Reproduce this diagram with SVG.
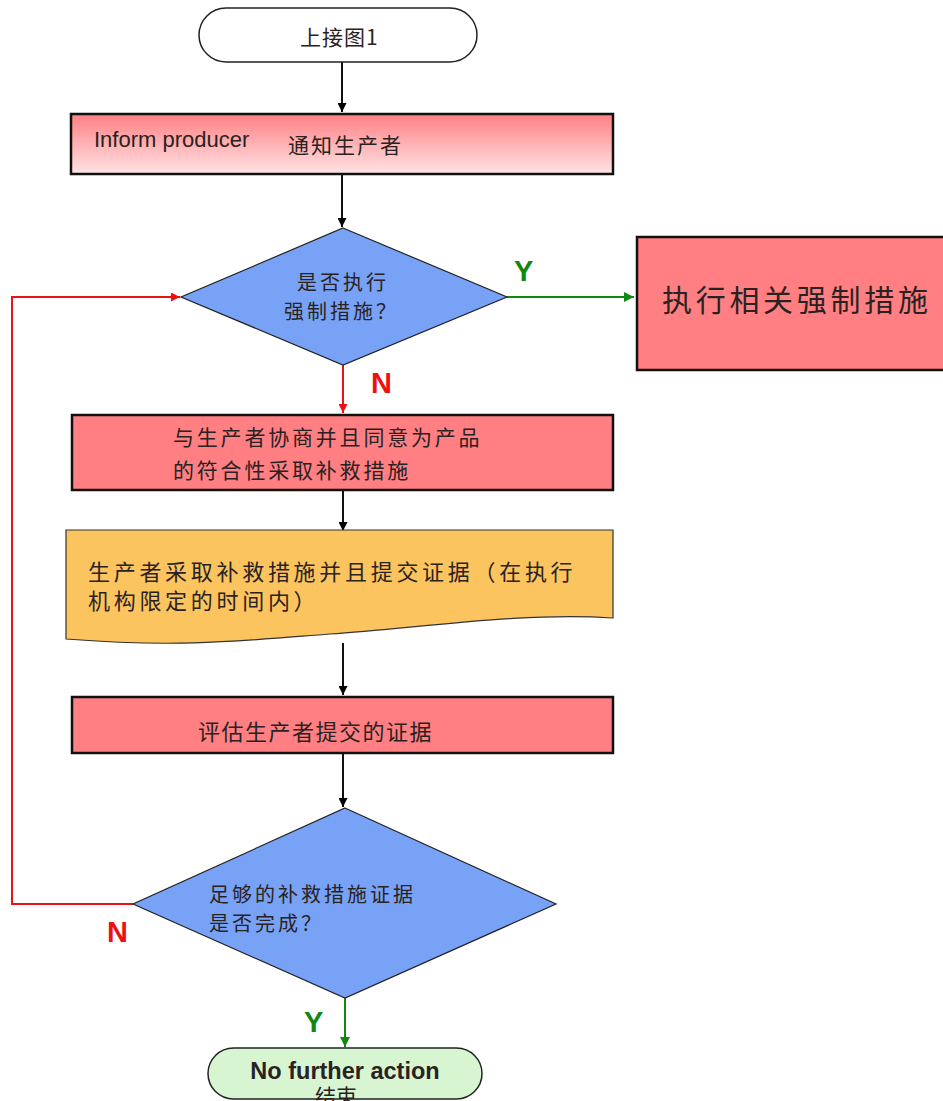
<svg xmlns="http://www.w3.org/2000/svg" width="943" height="1101" viewBox="0 0 943 1101">
<defs>
<linearGradient id="pinkGrad" x1="0" y1="0" x2="0" y2="1">
<stop offset="0" stop-color="#ff7f82"/>
<stop offset="1" stop-color="#ffe4e6"/>
</linearGradient>
<marker id="ahBlack" viewBox="0 0 10 10" refX="10" refY="5" markerWidth="9" markerHeight="9" markerUnits="userSpaceOnUse" orient="auto"><path d="M0,0 L10,5 L0,10 z" fill="#000"/></marker>
<marker id="ahRed" viewBox="0 0 10 10" refX="10" refY="5" markerWidth="9" markerHeight="9" markerUnits="userSpaceOnUse" orient="auto"><path d="M0,0 L10,5 L0,10 z" fill="#ee1111"/></marker>
<marker id="ahGreen" viewBox="0 0 10 10" refX="10" refY="5" markerWidth="10" markerHeight="10" markerUnits="userSpaceOnUse" orient="auto"><path d="M0,0 L10,5 L0,10 z" fill="#118811"/></marker>
</defs>
<style>
.box{stroke:#111;stroke-width:2.5}
.red{fill:#ff7f82}
.blue{fill:#78a2f5;stroke:#222;stroke-width:1.2}
.cjk{font-family:"Noto Sans CJK SC","Liberation Sans",sans-serif;fill:#2a2222}
.lat{font-family:"Liberation Sans",Arial,sans-serif;fill:#2a2222}
.blk{stroke:#111;stroke-width:2;fill:none;marker-end:url(#ahBlack)}
.rd{stroke:#ee1111;stroke-width:2;fill:none;marker-end:url(#ahRed)}
.gr{stroke:#118811;stroke-width:2;fill:none;marker-end:url(#ahGreen)}
.lblR{font-family:"Liberation Sans",Arial,sans-serif;font-weight:bold;font-size:29px;fill:#ee1111}
.lblG{font-family:"Liberation Sans",Arial,sans-serif;font-weight:bold;font-size:29px;fill:#118811}
</style>
<rect width="943" height="1101" fill="#fff"/>

<g id="connectors">
<path class="blk" d="M342,62 V112"/>
<path class="blk" d="M342,174 V227"/>
<path class="gr" d="M507,297 H634"/>
<path class="rd" d="M343,365 V413"/>
<path class="blk" d="M343,490 V531"/>
<path class="blk" d="M343,643 V695"/>
<path class="blk" d="M343,753 V807"/>
<path class="rd" d="M133,904 H12 V297 H180"/>
<path class="gr" d="M345,998 V1047"/>
<text class="lblG" x="514" y="281">Y</text>
<text class="lblR" x="371" y="393">N</text>
<text class="lblR" x="107" y="942">N</text>
<text class="lblG" x="304" y="1032">Y</text>
</g>

<g id="start">
<rect x="199" y="8" width="278" height="54" rx="27" ry="27" fill="#fff" stroke="#222" stroke-width="1.5"/>
<text class="cjk" x="300" y="45" font-size="21" letter-spacing="1">上接图1</text>
</g>

<g id="inform">
<rect class="box" x="71" y="114" width="542" height="60" fill="url(#pinkGrad)"/>
<text class="lat" x="94" y="147" font-size="22">Inform producer</text>
<text class="cjk" x="288" y="153" font-size="21" letter-spacing="2">通知生产者</text>
</g>

<g id="decision1">
<polygon class="blue" points="343,228 507,297 343,365 181,297"/>
<text class="cjk" x="297" y="290" font-size="20" letter-spacing="3">是否执行</text>
<text class="cjk" x="284" y="319" font-size="20" letter-spacing="3">强制措施？</text>
</g>

<g id="enforce">
<rect class="box red" x="637" y="237" width="310" height="133"/>
<text class="cjk" x="662" y="311" font-size="30" letter-spacing="3.7">执行相关强制措施</text>
</g>

<g id="negotiate">
<rect class="box red" x="72" y="415" width="541" height="75"/>
<text class="cjk" x="173" y="445" font-size="21" letter-spacing="2.8">与生产者协商并且同意为产品</text>
<text class="cjk" x="173" y="478" font-size="21" letter-spacing="2.8">的符合性采取补救措施</text>
</g>

<g id="producer-action">
<path d="M66,530 H613 V618 C520,612 420,628 330,634 C240,641 180,648 66,639 Z" fill="#fcc45e" stroke="#333" stroke-width="1.2"/>
<text class="cjk" x="88" y="580" font-size="22" letter-spacing="3.7">生产者采取补救措施并且提交证据（在执行</text>
<text class="cjk" x="88" y="609" font-size="22" letter-spacing="3.7">机构限定的时间内）</text>
</g>

<g id="evaluate">
<rect class="box red" x="72" y="697" width="541" height="56"/>
<text class="cjk" x="198" y="740" font-size="22" letter-spacing="1.5">评估生产者提交的证据</text>
</g>

<g id="decision2">
<polygon class="blue" points="345,808 556,904 345,998 133,904"/>
<text class="cjk" x="209" y="902" font-size="20" letter-spacing="3">足够的补救措施证据</text>
<text class="cjk" x="209" y="931" font-size="20" letter-spacing="3">是否完成？</text>
</g>

<g id="end">
<rect x="208" y="1048" width="274" height="51" rx="25.5" ry="25.5" fill="#d8f5d2" stroke="#222" stroke-width="1.5"/>
<text class="lat" x="345" y="1079" font-size="23.5" font-weight="bold" text-anchor="middle" fill="#111">No further action</text>
<text class="cjk" x="336" y="1104" font-size="21" text-anchor="middle">结束</text>
</g>
</svg>
